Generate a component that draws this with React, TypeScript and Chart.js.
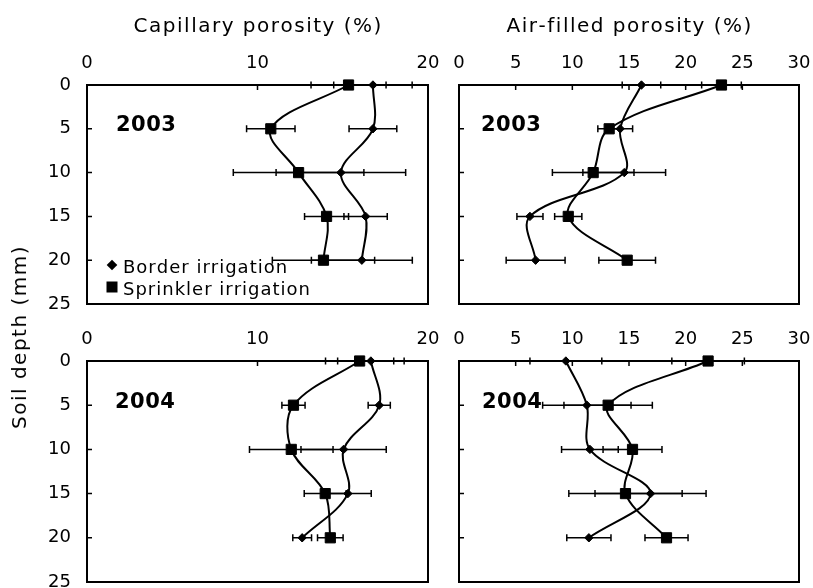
import React, { useEffect, useRef } from 'react';
import { Chart, registerables } from 'chart.js';

Chart.register(...registerables);

const FONT = "'DejaVu Sans', 'Liberation Sans', Arial, sans-serif";

// ---- data ----
const depths = [0, 5, 10, 15, 20];
const depthTicks = [0, 5, 10, 15, 20, 25];
const capTicks = [0, 10, 20];
const airTicks = [0, 5, 10, 15, 20, 25, 30];

const seriesLabels = ['Border irrigation', 'Sprinkler irrigation'];
const panelTitles = ['Capillary porosity (%)', 'Air-filled porosity (%)'];
const yearLabels = ['2003', '2004'];
const yAxisTitle = 'Soil depth (mm)';

const cap2003Border = [16.77, 16.77, 14.89, 16.34, 16.12];
const cap2003BorderErr = [2.3, 1.4, 3.8, 1.27, 2.96];
const cap2003Sprinkler = [15.34, 10.78, 12.41, 14.05, 13.87];
const cap2003SprinklerErr = [2.2, 1.42, 3.83, 1.29, 3.0];

const air2003Border = [16.1, 14.22, 14.58, 6.26, 6.76];
const air2003BorderErr = [1.7, 1.1, 3.65, 1.15, 2.6];
const air2003Sprinkler = [23.16, 13.25, 11.84, 9.64, 14.84];
const air2003SprinklerErr = [1.75, 1.0, 3.6, 1.2, 2.5];

const cap2004Border = [16.65, 17.14, 15.05, 15.3, 12.62];
const cap2004BorderErr = [1.95, 0.65, 2.5, 1.37, 0.55];
const cap2004Sprinkler = [15.99, 12.11, 11.98, 13.97, 14.27];
const cap2004SprinklerErr = [2.0, 0.68, 2.45, 1.23, 0.75];

const air2004Border = [9.43, 11.28, 11.55, 16.9, 11.46];
const air2004BorderErr = [3.17, 3.9, 2.5, 4.9, 1.95];
const air2004Sprinkler = [21.98, 13.16, 15.31, 14.69, 18.31];
const air2004SprinklerErr = [3.2, 3.9, 2.6, 5.0, 1.9];

type Area = { left: number; top: number; right: number; bottom: number };
type Panel = {
  key: string;
  left: number; top: number; width: number; height: number;
  area: Area;
  xMax: number; xTicks: number[]; showYLabels: boolean;
  border: number[]; borderErr: number[]; sprinkler: number[]; sprinklerErr: number[];
  title?: string; year: string; yearOff: [number, number]; legend?: boolean;
};

const panels: Panel[] = [
  {
    key: 'tl', left: 0, top: 0, width: 445, height: 320,
    area: { left: 87, top: 85, right: 428, bottom: 304 },
    xMax: 20, xTicks: capTicks, showYLabels: true,
    border: cap2003Border, borderErr: cap2003BorderErr,
    sprinkler: cap2003Sprinkler, sprinklerErr: cap2003SprinklerErr,
    title: panelTitles[0], year: yearLabels[0], yearOff: [29, 46], legend: true,
  },
  {
    key: 'tr', left: 445, top: 0, width: 368, height: 320,
    area: { left: 459, top: 85, right: 799, bottom: 304 },
    xMax: 30, xTicks: airTicks, showYLabels: false,
    border: air2003Border, borderErr: air2003BorderErr,
    sprinkler: air2003Sprinkler, sprinklerErr: air2003SprinklerErr,
    title: panelTitles[1], year: yearLabels[0], yearOff: [22, 46],
  },
  {
    key: 'bl', left: 0, top: 320, width: 445, height: 268,
    area: { left: 87, top: 361, right: 428, bottom: 582 },
    xMax: 20, xTicks: capTicks, showYLabels: true,
    border: cap2004Border, borderErr: cap2004BorderErr,
    sprinkler: cap2004Sprinkler, sprinklerErr: cap2004SprinklerErr,
    year: yearLabels[1], yearOff: [28, 47],
  },
  {
    key: 'br', left: 445, top: 320, width: 368, height: 268,
    area: { left: 459, top: 361, right: 799, bottom: 582 },
    xMax: 30, xTicks: airTicks, showYLabels: false,
    border: air2004Border, borderErr: air2004BorderErr,
    sprinkler: air2004Sprinkler, sprinklerErr: air2004SprinklerErr,
    year: yearLabels[1], yearOff: [23, 47],
  },
];

// draw text with manual letter spacing
function spacedText(ctx: CanvasRenderingContext2D, text: string, x: number, y: number, spacing: number, align: 'left' | 'center') {
  const chars = Array.from(text);
  const widths = chars.map((c) => ctx.measureText(c).width);
  const total = widths.reduce((s, w) => s + w, 0) + spacing * (chars.length - 1);
  let cx = align === 'center' ? x - total / 2 : x;
  ctx.textAlign = 'left';
  chars.forEach((c, i) => {
    ctx.fillText(c, cx, y);
    cx += widths[i] + spacing;
  });
}

function decoPlugin(p: Panel) {
  return {
    id: 'deco_' + p.key,
    beforeDatasetsDraw(chart: any) {
      const ctx = chart.ctx as CanvasRenderingContext2D;
      const xs = chart.scales.x;
      const ys = chart.scales.y;
      ctx.save();
      ctx.strokeStyle = '#000';
      ctx.lineWidth = 1.5;
      const sets: [number[], number[]][] = [
        [p.border, p.borderErr],
        [p.sprinkler, p.sprinklerErr],
      ];
      sets.forEach(([vals, errs]) => {
        vals.forEach((v, i) => {
          const y = ys.getPixelForValue(depths[i]);
          const x1 = xs.getPixelForValue(v - errs[i]);
          const x2 = xs.getPixelForValue(v + errs[i]);
          ctx.beginPath();
          ctx.moveTo(x1, y);
          ctx.lineTo(x2, y);
          ctx.moveTo(x1, y - 3.5);
          ctx.lineTo(x1, y + 3.5);
          ctx.moveTo(x2, y - 3.5);
          ctx.lineTo(x2, y + 3.5);
          ctx.stroke();
        });
      });
      ctx.restore();
    },
    afterDraw(chart: any) {
      const ctx = chart.ctx as CanvasRenderingContext2D;
      const a = chart.chartArea;
      const xs = chart.scales.x;
      const ys = chart.scales.y;
      ctx.save();
      ctx.strokeStyle = '#000';
      ctx.fillStyle = '#000';
      // frame
      ctx.lineWidth = 2;
      ctx.strokeRect(a.left, a.top, a.right - a.left, a.bottom - a.top);
      // inward ticks
      ctx.lineWidth = 1.5;
      ctx.beginPath();
      p.xTicks.forEach((v) => {
        const x = xs.getPixelForValue(v);
        if (x > a.left + 1 && x < a.right - 1) {
          ctx.moveTo(x, a.top);
          ctx.lineTo(x, a.top + 5);
        }
      });
      depthTicks.forEach((v) => {
        const y = ys.getPixelForValue(v);
        if (y > a.top + 1 && y < a.bottom - 1) {
          ctx.moveTo(a.left, y);
          ctx.lineTo(a.left + 5, y);
        }
      });
      ctx.stroke();
      ctx.textBaseline = 'alphabetic';
      // title
      if (p.title) {
        ctx.font = `20px ${FONT}`;
        spacedText(ctx, p.title, (a.left + a.right) / 2, 32, 1.5, 'center');
      }
      // year
      ctx.font = `bold 21px ${FONT}`;
      spacedText(ctx, p.year, a.left + p.yearOff[0], a.top + p.yearOff[1], 0.5, 'left');
      // legend
      if (p.legend) {
        const lx = a.left + 25;
        const dy = a.top + 180;
        const sy = a.top + 202;
        ctx.beginPath();
        ctx.moveTo(lx, dy - 5.3);
        ctx.lineTo(lx + 5.3, dy);
        ctx.lineTo(lx, dy + 5.3);
        ctx.lineTo(lx - 5.3, dy);
        ctx.closePath();
        ctx.fill();
        ctx.fillRect(lx - 5.5, sy - 5.5, 11, 11);
        ctx.font = `18px ${FONT}`;
        spacedText(ctx, seriesLabels[0], a.left + 36, a.top + 188, 1, 'left');
        spacedText(ctx, seriesLabels[1], a.left + 36, a.top + 210, 1, 'left');
      }
      ctx.restore();
    },
  };
}

function makeConfig(p: Panel): any {
  const yWidth = p.area.left - p.left;
  const xHeight = p.area.top - p.top;
  const padRight = p.left + p.width - p.area.right;
  const padBottom = p.top + p.height - p.area.bottom;
  const zeroPad = (s: any) => {
    s.paddingLeft = 0;
    s.paddingRight = 0;
    s.paddingTop = 0;
    s.paddingBottom = 0;
  };
  const common = {
    borderColor: '#000',
    borderWidth: 2,
    pointBackgroundColor: '#000',
    pointBorderColor: '#000',
    pointBorderWidth: 1,
    tension: 0.35,
    fill: false,
    clip: false,
  };
  return {
    type: 'line',
    data: {
      datasets: [
        {
          ...common,
          label: seriesLabels[0],
          data: depths.map((d, i) => ({ x: p.border[i], y: d })),
          pointStyle: 'rectRot',
          pointRadius: 4.2,
        },
        {
          ...common,
          label: seriesLabels[1],
          data: depths.map((d, i) => ({ x: p.sprinkler[i], y: d })),
          pointStyle: 'rect',
          pointRadius: 7.2,
        },
      ],
    },
    options: {
      responsive: false,
      maintainAspectRatio: false,
      animation: false,
      events: [],
      layout: { autoPadding: false, padding: { left: 0, top: 0, right: padRight, bottom: padBottom } },
      plugins: { legend: { display: false }, tooltip: { enabled: false }, title: { display: false } },
      scales: {
        x: {
          type: 'linear',
          position: 'top',
          min: 0,
          max: p.xMax,
          afterBuildTicks: (s: any) => { s.ticks = p.xTicks.map((v) => ({ value: v })); },
          ticks: { font: { family: FONT, size: 18 }, color: '#000', padding: 11, maxRotation: 0, autoSkip: false },
          grid: { display: false, drawTicks: false },
          border: { display: false },
          afterFit: (s: any) => { s.height = xHeight; zeroPad(s); },
        },
        y: {
          type: 'linear',
          position: 'left',
          min: 0,
          max: 25,
          reverse: true,
          afterBuildTicks: (s: any) => { s.ticks = depthTicks.map((v) => ({ value: v })); },
          ticks: { display: p.showYLabels, font: { family: FONT, size: 18 }, color: '#000', padding: 16, autoSkip: false },
          grid: { display: false, drawTicks: false },
          border: { display: false },
          afterFit: (s: any) => { s.width = yWidth; zeroPad(s); },
        },
      },
    },
    plugins: [decoPlugin(p)],
  };
}

function PanelChart({ p }: { p: Panel }) {
  const ref = useRef<HTMLCanvasElement>(null);
  useEffect(() => {
    const chart = new Chart(ref.current as HTMLCanvasElement, makeConfig(p));
    return () => chart.destroy();
  }, []);
  return (
    <canvas
      ref={ref}
      width={p.width}
      height={p.height}
      style={{ position: 'absolute', left: p.left, top: p.top, width: p.width, height: p.height }}
    />
  );
}

export default function App() {
  return (
    <div style={{ position: 'absolute', left: 0, top: 0, width: 813, height: 588, background: '#fff', overflow: 'hidden' }}>
      {panels.map((p) => (
        <PanelChart key={p.key} p={p} />
      ))}
      <div
        style={{
          position: 'absolute',
          left: 19,
          top: 337,
          transform: 'translate(-50%, -50%) rotate(-90deg)',
          font: `20px ${FONT}`,
          lineHeight: '20px',
          letterSpacing: '1.5px',
          whiteSpace: 'nowrap',
          color: '#000',
        }}
      >
        {yAxisTitle}
      </div>
    </div>
  );
}
